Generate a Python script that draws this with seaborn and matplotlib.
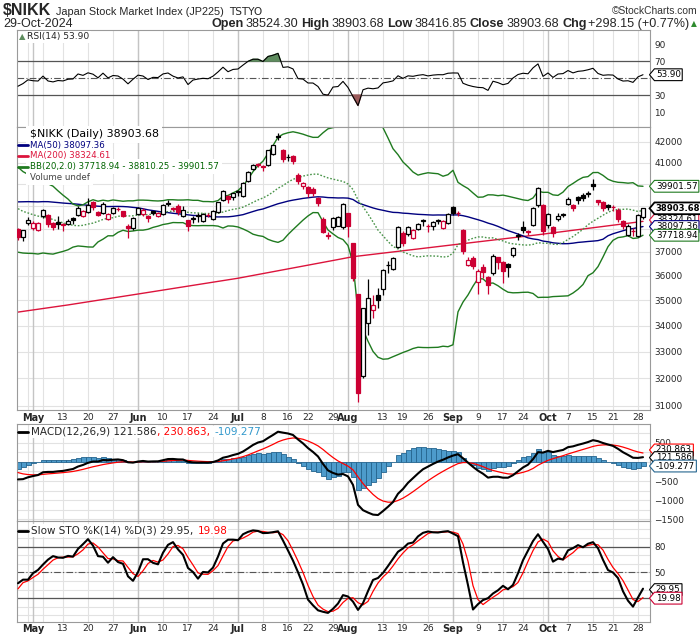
import numpy as np
import pandas as pd
import matplotlib
matplotlib.use("Agg")
import matplotlib.pyplot as plt
from matplotlib import font_manager
from matplotlib.lines import Line2D
from matplotlib.path import Path
from matplotlib.ticker import NullLocator
import seaborn as sns

# Tokyo sessions on the chart: 25-Apr-2024 .. 29-Oct-2024
tse_holidays = ['2024-04-29', '2024-05-03', '2024-05-06', '2024-07-15',
                '2024-08-12', '2024-09-16', '2024-09-23', '2024-10-14']
dates = pd.bdate_range('2024-04-25', '2024-10-29', freq='C', holidays=tse_holidays)

# daily candles (Apr, May, Jun, Jul, Aug, Sep, Oct)
open_ = [37990, 37650, 38250,
         38020, 37960, 38540, 38600, 38250, 38300, 38200, 38200, 38480, 38600, 38550,
         38750, 39180, 38740, 38700, 38430, 38700, 38870, 38780, 38100, 38040,
         38650, 38650, 38560, 38780, 38550, 38650, 39100, 38900, 39000, 38550,
         38370, 38450, 38600, 38350, 38620, 38450, 38750, 39300, 39450, 39400,
         39700, 39450, 40150, 40700, 40930, 40850, 40900, 41400, 42300, 41600, 41250,
         41300, 40400, 39900, 39850, 39800, 39350, 38430, 37750, 38060, 38130, 38080,
         38700, 37400, 35250, 32100, 34100, 34600, 35200, 35450, 36450, 36300, 37200,
         37800, 37770, 37600, 37970, 38330, 38130, 38100, 38350, 38050, 38260,
         38950, 38700, 37960, 36450, 36750, 35750, 36350, 35950, 36100, 36780,
         36560, 36490, 36860, 37700, 38060, 37900, 38170, 39040, 39050,
         38150, 38080, 38420, 38600, 39100, 39050, 39400, 39500, 39560, 40000,
         39280, 39200, 39050, 38970, 38850, 38330, 37750, 37900, 37700, 38524.30]
high = [38020, 37950, 38500,
        38350, 38290, 38863, 38640, 38300, 38560, 38260, 38450, 38520, 39000, 38850,
        39350, 39250, 38800, 39180, 38700, 38950, 38950, 38800, 38200, 38520,
        38950, 38900, 38600, 38800, 38720, 39080, 39300, 38950, 39100, 39000,
        38400, 38550, 38700, 38700, 38700, 38850, 39200, 39750, 39500, 39600,
        39750, 40100, 40600, 40950, 41000, 40900, 41600, 41850, 42426, 41650, 41400,
        41350, 40500, 40100, 39900, 39850, 39400, 38500, 37850, 38500, 38550, 39150,
        38700, 37400, 35250, 34700, 35850, 35200, 35500, 36300, 36600, 36800, 38100,
        37900, 38100, 38000, 38250, 38450, 38200, 38350, 38450, 38400, 38700,
        39000, 38800, 37990, 36800, 36850, 36300, 36500, 36000, 36900, 36800,
        36600, 36550, 37200, 37800, 38350, 37950, 38950, 39850, 39100,
        38700, 38100, 38700, 38700, 39400, 39100, 39450, 39600, 39700, 40257,
        39300, 39250, 39100, 39050, 38900, 38400, 38200, 38050, 38650, 38903.68]
low = [37510, 37450, 38150,
       37950, 37900, 38460, 38060, 37950, 38000, 37900, 38150, 38200, 38550, 38500,
       38700, 38850, 38550, 38660, 38400, 38640, 38800, 38500, 37617, 37950,
       38600, 38550, 38300, 38600, 38500, 38600, 39000, 38800, 38600, 38500,
       37900, 38250, 38300, 38300, 38500, 38400, 38700, 39250, 39150, 39300,
       39450, 39400, 40100, 40650, 40800, 40600, 40850, 41350, 42100, 41050, 41100,
       40950, 40000, 39800, 39400, 39450, 39000, 37800, 37550, 37950, 38100, 38000,
       37650, 35800, 31156, 32000, 33650, 34300, 34700, 35200, 36100, 36250, 37150,
       37250, 37700, 37550, 37950, 38100, 37850, 37950, 38200, 38000, 38200,
       38600, 38550, 36900, 36400, 36300, 35250, 35900, 35250, 36050, 36300,
       35700, 35950, 36800, 37500, 37800, 37750, 38100, 38950, 37750,
       38050, 37650, 38350, 38500, 39050, 38800, 39100, 39250, 39400, 39750,
       39050, 38800, 38850, 38800, 38300, 38000, 37700, 37700, 37650, 38416.85]
close = [37628, 37934, 38405,
         38274, 38236, 38835, 38202, 38073, 38229, 38179, 38356, 38385, 38920, 38787,
         39070, 38947, 38617, 39103, 38646, 38900, 38855, 38556, 38054, 38487,
         38923, 38837, 38490, 38703, 38683, 39038, 39134, 38876, 38720, 38814,
         38102, 38482, 38570, 38633, 38596, 38804, 39173, 39667, 39341, 39583,
         39631, 40074, 40580, 40913, 40912, 40780, 41580, 41831, 42224, 41190, 41275,
         41098, 40126, 40063, 39599, 39594, 39154, 37869, 37667, 38468, 38525, 39101,
         38126, 35909, 31458, 34675, 35089, 34831, 35025, 36232, 36442, 36726, 38062,
         37388, 38062, 37951, 38211, 38364, 38110, 38288, 38371, 38362, 38647,
         38700, 38686, 37047, 36657, 36391, 36216, 36159, 35620, 36833, 36581,
         36203, 36380, 37155, 37724, 37940, 37870, 38926, 39830, 37920,
         38652, 37809, 38552, 38635, 39333, 38937, 39278, 39381, 39606, 39911,
         39181, 38911, 38982, 38955, 38412, 38105, 38143, 37914, 38605.53, 38903.68]

# sessions before the window (1-Feb .. 24-Apr), only used to warm up the indicators
prior_close = [36011, 36158, 36354, 36160, 36119, 36863, 36897, 37963, 37703, 38157,
               38487, 38470, 38363, 38262, 39098, 39233, 39239, 39208, 39166,
               39910, 40109, 40097, 40090, 39598, 39688, 38820, 38797, 38695, 38807,
               38707, 39740, 40003, 40815, 40888, 40414, 40398, 40762, 40168, 40369,
               39803, 39838, 39451, 39773, 38992, 39347, 39773, 39581, 39442, 39523,
               39232, 38471, 37961, 38079, 37068, 37438, 37552, 38460]
prior_high = [40979, 40662, 40530, 40697, 39898, 39573, 39817, 39211, 39434, 39800,
              39616, 39590, 39706, 39532, 38804, 38505, 38245, 37810, 37551, 37663, 38475]
prior_low = [40280, 40070, 40050, 39700, 39542, 39198, 39346, 38774, 39094, 39460,
             39368, 39065, 39409, 39140, 38417, 37906, 37772, 36733, 37194, 37385, 37810]

# MA(200) at a few sessions
ma200_idx = [0, 10, 24, 44, 63, 67, 84, 104, 125]
ma200_val = [34530, 34815, 35255, 35900, 36640, 36800, 37230, 37740, 38325]

# last values printed in the legends / axis tags
last_rsi = 53.90
last_ma50, last_ma200 = 38097.36, 38324.61
last_bb = (37718.94, 38810.25, 39901.57)
last_macd = (121.586, 230.863, -109.277)
last_sto = (29.95, 19.98)

# ---- indicators ----
n0 = len(prior_close)
c_all = pd.Series(prior_close + close, dtype=float)
h_all = pd.Series([np.nan] * (n0 - len(prior_high)) + prior_high + high, dtype=float)
l_all = pd.Series([np.nan] * (n0 - len(prior_low)) + prior_low + low, dtype=float)

ma50 = c_all.rolling(50).mean()
bb_mid = c_all.rolling(20).mean()
bb_sd = c_all.rolling(20).std(ddof=0)
bb_up, bb_lo = bb_mid + 2 * bb_sd, bb_mid - 2 * bb_sd

delta = c_all.diff()
up = delta.clip(lower=0).ewm(alpha=1 / 14, adjust=False).mean()
dn = (-delta.clip(upper=0)).ewm(alpha=1 / 14, adjust=False).mean()
rsi = 100 - 100 / (1 + up / dn)

macd = c_all.ewm(span=12, adjust=False).mean() - c_all.ewm(span=26, adjust=False).mean()
signal = macd.ewm(span=9, adjust=False).mean()
hist = macd - signal

ll, hh = l_all.rolling(14).min(), h_all.rolling(14).max()
slow_k = (100 * (c_all - ll) / (hh - ll)).rolling(3).mean()
slow_d = slow_k.rolling(3).mean()

vis = lambda s: s.iloc[n0:].to_numpy()
ma50, bb_mid, bb_up, bb_lo = vis(ma50), vis(bb_mid), vis(bb_up), vis(bb_lo)
rsi, macd, signal, hist = vis(rsi), vis(macd), vis(signal), vis(hist)
slow_k, slow_d = vis(slow_k), vis(slow_d)

n = len(close)
x = np.arange(n)

# weekly / monthly grid positions and date labels
month_pos = [i for i in range(1, n) if dates[i].month != dates[i - 1].month]
week_pos = [i for i in range(1, n) if dates[i].isocalendar()[1] != dates[i - 1].isocalendar()[1]]
lab_pos, lab_txt = [], []
for i in sorted(set(week_pos) | set(month_pos)):
    if i in month_pos:
        lab_pos.append(i); lab_txt.append(dates[i].strftime('%b'))
    elif min(abs(i - m) for m in month_pos) > 2:
        lab_pos.append(i); lab_txt.append(str(dates[i].day))

# ---- drawing ----
sns.set_style("white")
names = {f.name for f in font_manager.fontManager.ttflist}
NARROW = ['Liberation Sans Narrow' if 'Liberation Sans Narrow' in names else 'Liberation Sans', 'DejaVu Sans']
plt.rcParams['font.family'] = ['DejaVu Sans']

RED = '#CC0033'
GRID = '#E2E2E2'
MGRID = '#C4C4C4'
BBG = '#1F7A1F'

fig = plt.figure(figsize=(7, 6.39), dpi=100)
W, H = 700, 639


def panel(top, bot):
    return fig.add_axes([17 / W, 1 - bot / H, 633 / W, (bot - top) / H])


ax_r = panel(30, 126.5)
ax_p = panel(126.5, 410)
ax_m = panel(423.5, 521)
ax_s = panel(521, 621.5)


def tag_shape(x0, y0, width, height, mutation_size):
    pad = 0.16 * mutation_size
    x0, y0 = x0 - pad, y0 - pad
    w, h = width + 2 * pad, height + 2 * pad
    tip = 0.42 * h
    return Path([(x0 - tip, y0 + h / 2), (x0, y0 + h), (x0 + w, y0 + h),
                 (x0 + w, y0), (x0, y0), (x0 - tip, y0 + h / 2)], closed=True)


def tag(ax, y, s, ec, weight='normal', dy=0, lw=0.8, size=6.3):
    ax.annotate(s, xy=(1, y), xycoords=('axes fraction', 'data'), xytext=(4.2, dy),
                textcoords='offset points', ha='left', va='center', fontsize=size,
                fontweight=weight, color='black', annotation_clip=False, zorder=8,
                bbox=dict(boxstyle=tag_shape, fc='white', ec=ec, lw=lw))


for ax in (ax_r, ax_p, ax_m, ax_s):
    for p in week_pos:
        ax.axvline(p, color=GRID, lw=0.8, zorder=0.4)
    for p in month_pos:
        ax.axvline(p, color=MGRID, lw=1.0, zorder=0.5)
    for sp in ax.spines.values():
        sp.set_color('#9A9A9A')
        sp.set_linewidth(0.8)
    ax.yaxis.tick_right()
    ax.tick_params(axis='both', length=0, labelsize=6.4, pad=3)
    ax.set_xticks(lab_pos, labels=lab_txt)
    ax.tick_params(axis='x', labelbottom=False)

# RSI
for v in (70, 30):
    ax_r.axhline(v, color='#555555', lw=0.9, zorder=1)
ax_r.axhline(50, color='#555555', lw=0.8, ls=(0, (6, 2, 1, 2)), zorder=1)
ax_r.fill_between(x, rsi, 70, where=rsi > 70, interpolate=True, color='#5E8C5E', zorder=2)
ax_r.fill_between(x, rsi, 30, where=rsi < 30, interpolate=True, color='#9C5B5B', zorder=2)
sns.lineplot(x=x, y=rsi, ax=ax_r, color='black', linewidth=0.8, zorder=3)
ax_r.set_ylim(-7, 106.5)
ax_r.set_yticks([90, 70, 30, 10])
tag(ax_r, last_rsi, '53.90', 'black')

# price
ax_p.set_yscale('log')
for v in range(31000, 43000, 1000):
    ax_p.axhline(v, color=GRID, lw=0.8, zorder=0.4)
sns.lineplot(x=ma200_idx, y=ma200_val, ax=ax_p, color='#DC143C', linewidth=1.0, zorder=2)
sns.lineplot(x=x, y=ma50, ax=ax_p, color='#00007F', linewidth=1.0, zorder=2)
sns.lineplot(x=x, y=bb_up, ax=ax_p, color=BBG, linewidth=1.0, zorder=2)
sns.lineplot(x=x, y=bb_lo, ax=ax_p, color=BBG, linewidth=1.0, zorder=2)
sns.lineplot(x=x, y=bb_mid, ax=ax_p, color='#4A944A', linewidth=1.0,
             linestyle=(0, (1.2, 1.3)), zorder=2)

o, h, l, c = (np.array(a, dtype=float) for a in (open_, high, low, close))
pc = np.array([prior_close[-1]] + close[:-1], dtype=float)
edge = np.where(c >= pc, 'black', RED)
face = np.where(c >= o, 'white', edge)
ax_p.vlines(x, l, h, colors=edge, linewidth=0.9, zorder=3)
ax_p.bar(x, np.abs(c - o), bottom=np.minimum(o, c), width=0.72, color=face,
         edgecolor=edge, linewidth=0.9, zorder=4)
ax_p.set_ylim(30855, 42740)
ax_p.yaxis.set_minor_locator(NullLocator())
pt = list(range(31000, 38000, 1000)) + [41000, 42000]
ax_p.set_yticks(pt, labels=[str(v) for v in pt])
ax_p.tick_params(axis='x', labelbottom=True, pad=2)
tag(ax_p, last_bb[2], '39901.57', BBG)
tag(ax_p, last_ma200, '38324.61', '#DC143C', dy=1.0)
tag(ax_p, last_ma50, '38097.36', '#00007F')
tag(ax_p, last_bb[0], '37718.94', BBG)
tag(ax_p, close[-1], '38903.68', 'black', weight='bold', lw=1.3, size=6.1)

# MACD
for v in range(-1500, 1001, 250):
    ax_m.axhline(v, color=GRID, lw=0.8, zorder=0.4)
ax_m.bar(x, hist, width=1.0, color='#4D9BCB', edgecolor='#25658F', linewidth=0.6, zorder=2)
sns.lineplot(x=x, y=signal, ax=ax_m, color='#FF0000', linewidth=0.9, zorder=3)
sns.lineplot(x=x, y=macd, ax=ax_m, color='black', linewidth=1.5, zorder=4)
ax_m.set_ylim(-1544, 1001)
ax_m.set_yticks([500, -500, -1000, -1500])
tag(ax_m, last_macd[1], '230.863', '#FF0000', dy=2.2)
tag(ax_m, last_macd[0], '121.586', 'black', dy=-0.3)
tag(ax_m, last_macd[2], '-109.277', '#25658F')

# Slow stochastic
for v in range(0, 110, 10):
    ax_s.axhline(v, color=GRID, lw=0.8, zorder=0.4)
for v in (80, 20):
    ax_s.axhline(v, color='#555555', lw=0.9, zorder=1)
ax_s.axhline(50, color='#555555', lw=0.8, ls=(0, (6, 2, 1, 2)), zorder=1)
sns.lineplot(x=x, y=slow_d, ax=ax_s, color='#FF0000', linewidth=0.9, zorder=3)
sns.lineplot(x=x, y=slow_k, ax=ax_s, color='black', linewidth=1.5, zorder=4)
ax_s.set_ylim(-7.2, 109.9)
ax_s.set_yticks([80, 50])
ax_s.tick_params(axis='x', labelbottom=True, pad=2)
tag(ax_s, last_sto[0], '29.95', 'black')
tag(ax_s, last_sto[1], '19.98', RED)

for ax in (ax_r, ax_p, ax_m, ax_s):
    ax.set_xlim(-0.2, n + 0.4)
    ax.set_xlabel('')
    ax.set_ylabel('')
    for t in ax.get_xticklabels():
        if t.get_text().isalpha():
            t.set_fontweight('bold')
            t.set_fontsize(7)
        else:
            t.set_fontsize(6.6)


# ---- header (figure pixels, measured from the top) ----
def at(ax, xp, yp, s, ha='left', **kw):
    return ax.annotate(s, xy=(xp, H - yp), xycoords='figure pixels', ha=ha, va='baseline',
                       annotation_clip=False, zorder=10, **kw)


def after(ax, prev, yp, s, gap=3, **kw):
    return ax.annotate(s, xy=(1, H - yp), xycoords=(prev, 'figure pixels'), xytext=(gap, 0),
                       textcoords='offset points', ha='left', va='baseline',
                       annotation_clip=False, zorder=10, **kw)


def before(ax, nxt, yp, s, gap=3, **kw):
    return ax.annotate(s, xy=(0, H - yp), xycoords=(nxt, 'figure pixels'), xytext=(-gap, 0),
                       textcoords='offset points', ha='right', va='baseline',
                       annotation_clip=False, zorder=10, **kw)


t = at(ax_r, 3, 15, '$NIKK', fontsize=11.5, fontweight='bold', family=NARROW)
t = after(ax_r, t, 15, 'Japan Stock Market Index (JP225)', gap=3.5, fontsize=7.8, family=NARROW)
after(ax_r, t, 15, 'TSTYO', gap=3.5, fontsize=7.6)
at(ax_r, 697, 14, '©StockCharts.com', ha='right', fontsize=7.4, family=NARROW, color='#333333')
at(ax_r, 3, 27, '29-Oct-2024', fontsize=9, family=NARROW)

quote = [('Open', 'bold'), ('38524.30', 'normal'), ('High', 'bold'), ('38903.68', 'normal'),
         ('Low', 'bold'), ('38416.85', 'normal'), ('Close', 'bold'), ('38903.68', 'normal'),
         ('Chg', 'bold'), ('+298.15 (+0.77%)', 'normal')]
t = at(ax_r, 697, 26, '▲', ha='right', fontsize=5.5, color='#2E8B2E')
gap = 1
for s, w in reversed(quote):
    t = before(ax_r, t, 27, s, gap=gap, fontsize=9.1, fontweight=w, family=NARROW)
    gap = 2.3 if w == 'bold' else 1.4

# ---- panel legends ----
box = dict(facecolor='white', edgecolor='none', pad=1)
fig.text(27 / W, 1 - 37 / H, 'RSI(14) 53.90', fontsize=6.6, va='center', ha='left', bbox=box)
fig.text(18.5 / W, 1 - 37 / H, '▲', fontsize=6, va='center', ha='left', color='#5E8C5E')

legend_rows = [('$NIKK (Daily) 38903.68', 'black', None, 7.9),
               ('MA(50) 38097.36', '#00007F', '#00007F', 6.2),
               ('MA(200) 38324.61', '#DC143C', '#DC143C', 6.2),
               ('BB(20,2.0) 37718.94 - 38810.25 - 39901.57', '#006400', BBG, 6.2),
               ('Volume undef', '#444444', None, 6.2)]
for k, (s, col, lc, fs) in enumerate(legend_rows):
    yy = 134.3 + k * 10.75
    # white backing first, so the rows form one solid block over the lines
    fig.text(29.5 / W, 1 - yy / H, s, fontsize=fs, color='white', va='center', ha='left',
             zorder=5, bbox=dict(facecolor='white', edgecolor='none', pad=2.4))
    fig.text(29.5 / W, 1 - yy / H, s, fontsize=fs, color=col, va='center', ha='left', zorder=6)
    if lc:
        fig.add_artist(Line2D([18 / W, 28 / W], [1 - yy / H] * 2, color=lc, lw=2, zorder=6))

LFS = 7.5
sbox = dict(facecolor='white', edgecolor='none', pad=0.4)
t = ax_m.annotate('MACD(12,26,9) 121.586', xy=(31, H - 431.7), xycoords='figure pixels', ha='left',
                  va='center', fontsize=LFS, annotation_clip=False, bbox=box, zorder=10)
t = ax_m.annotate(', 230.863, ', xy=(1, 0), xycoords=t, xytext=(0.6, 0), textcoords='offset points',
                  ha='left', va='bottom', fontsize=LFS, color='#FF0000', annotation_clip=False,
                  bbox=sbox, zorder=10)
ax_m.annotate('-109.277', xy=(1, 0), xycoords=t, xytext=(0.6, 0), textcoords='offset points',
              ha='left', va='bottom', fontsize=LFS, color='#3399CC', annotation_clip=False,
              bbox=sbox, zorder=10)
fig.add_artist(Line2D([18 / W, 28 / W], [1 - 431.7 / H] * 2, color='black', lw=2))

t = ax_s.annotate('Slow STO %K(14) %D(3) 29.95, ', xy=(31, H - 530.7), xycoords='figure pixels',
                  ha='left', va='center', fontsize=LFS, annotation_clip=False, bbox=box, zorder=10)
ax_s.annotate('19.98', xy=(1, 0), xycoords=t, xytext=(0.6, 0), textcoords='offset points',
              ha='left', va='bottom', fontsize=LFS, color='#FF0000', annotation_clip=False,
              bbox=sbox, zorder=10)
fig.add_artist(Line2D([18 / W, 28 / W], [1 - 530.7 / H] * 2, color='black', lw=2))

fig.savefig('out.png', dpi=100, facecolor='white')
